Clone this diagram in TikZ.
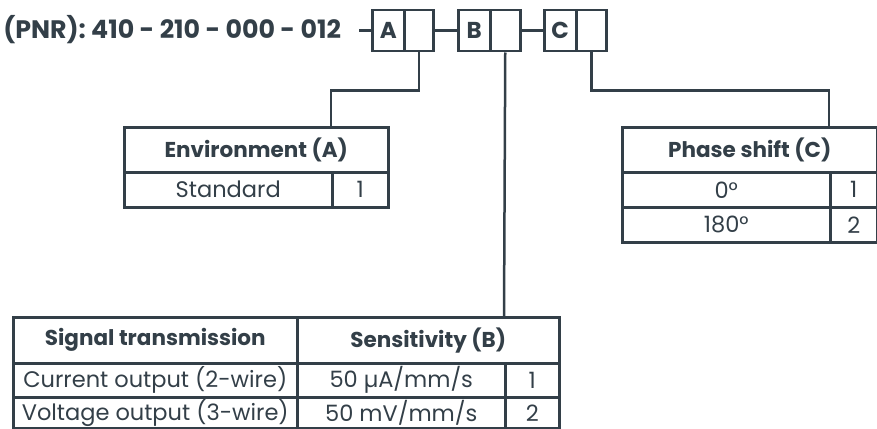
\documentclass[tikz,border=0pt]{standalone}
\usepackage{fontspec}
\setmainfont{Poppins}
\definecolor{ink}{HTML}{333F48}
\begin{document}
\begin{tikzpicture}[x=1pt,y=-1pt,line width=2.5pt,draw=ink,color=ink,
  cell/.style={draw,anchor=north west,inner sep=0pt,minimum height=35pt,
    font=\fontsize{22.5}{24}\selectfont},
  hcell/.style={cell,minimum height=45pt,font=\fontsize{21.5}{24}\selectfont\bfseries},
  code/.style={draw,anchor=north west,inner sep=0pt,minimum height=41pt,
    font=\fontsize{23}{26}\selectfont\bfseries}]
\useasboundingbox (0,0) rectangle (877,428);

% part number and its code boxes
\node (pnr) [anchor=base west,inner sep=0pt,font=\fontsize{25.3}{28}\selectfont\bfseries]
  at (2,38) {(PNR): 410 - 210 - 000 - 012};
\node (boxA)  [code,minimum width=32pt] at (371,9) {A};
\node (boxAx) [code,minimum width=29pt] at (403,9) {};
\node (boxB)  [code,minimum width=32pt] at (457,9) {B};
\node (boxBx) [code,minimum width=30pt] at (489,9) {};
\node (boxC)  [code,minimum width=32pt] at (543,9) {C};
\node (boxCx) [code,minimum width=30pt] at (575,9) {};
\draw ([xshift=17pt]pnr.east |- boxA.west) -- (boxA.west);
\draw (boxAx.east) -- (boxB.west);
\draw (boxBx.east) -- (boxC.west);

% environment (A)
\node (envhead) [hcell,minimum width=264pt] at (123,126) {Environment (A)};
\node (envstd)  [cell,minimum width=208pt] at (123,171) {Standard};
\node (envone)  [cell,minimum width=56pt] at (331,171) {1};

% phase shift (C)
\node (phhead) [hcell,minimum width=255pt] at (621,126) {Phase shift (C)};
\node (phzero) [cell,minimum width=208pt] at (621,171) {0°};
\node (phone)  [cell,minimum width=47pt] at (829,171) {1};
\node (phhalf) [cell,minimum width=208pt] at (621,206) {180°};
\node (phtwo)  [cell,minimum width=47pt] at (829,206) {2};

% signal transmission / sensitivity (B)
\node (sighead)  [hcell,minimum width=284pt,minimum height=46pt] at (12,316) {Signal transmission};
\node (senshead) [hcell,minimum width=262pt,minimum height=46pt] at (296,316) {Sensitivity (B)};
\node (cur)    [cell,minimum width=284pt,minimum height=34pt] at (12,362) {Current output (2-wire)};
\node (curval) [cell,minimum width=208pt,minimum height=34pt] at (296,362) {50 µA/mm/s};
\node (curone) [cell,minimum width=54pt,minimum height=34pt] at (504,362) {1};
\node (vol)    [cell,minimum width=284pt,minimum height=31pt] at (12,396) {Voltage output (3-wire)};
\node (volval) [cell,minimum width=208pt,minimum height=31pt] at (296,396) {50 mV/mm/s};
\node (voltwo) [cell,minimum width=54pt,minimum height=31pt] at (504,396) {2};

% leaders
\draw (boxAx.south) -- ++(0,38) -| (envone.north west |- envhead.north);
\draw (boxBx.south) -- (curone.north west |- senshead.north);
\draw (boxCx.south) -- ++(0,38) -| (phone.north west |- phhead.north);
\end{tikzpicture}
\end{document}
